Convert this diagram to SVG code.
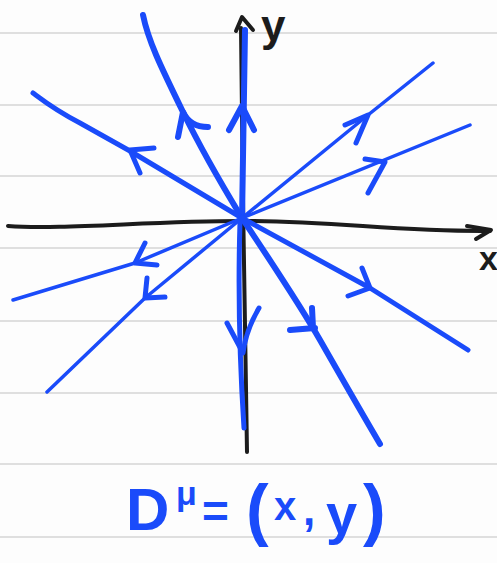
<svg xmlns="http://www.w3.org/2000/svg" width="497" height="563" viewBox="0 0 497 563">
<style>
.rule{stroke:#d5d5d5;stroke-width:1.6}
.ax{fill:none;stroke:#1c1c1c;stroke-width:4;stroke-linecap:round;stroke-linejoin:round}
.b{fill:none;stroke:#1a4bfa;stroke-linecap:round;stroke-linejoin:round}
.w6{stroke-width:6}
.w5{stroke-width:5}
.w3{stroke-width:3.5}
.lbl{font-family:"Liberation Sans","DejaVu Sans",sans-serif;font-weight:bold}
.blk{fill:#1c1c1c}
.blu{fill:#1a4bfa}
</style>
<rect width="497" height="563" fill="#fdfdfd"/>
<g id="paper">
<line class="rule" x1="0" y1="33" x2="497" y2="33"/>
<line class="rule" x1="0" y1="105" x2="497" y2="105"/>
<line class="rule" x1="0" y1="176" x2="497" y2="176"/>
<line class="rule" x1="0" y1="248" x2="497" y2="248"/>
<line class="rule" x1="0" y1="321" x2="497" y2="321"/>
<line class="rule" x1="0" y1="393" x2="497" y2="393"/>
<line class="rule" x1="0" y1="464" x2="497" y2="464"/>
<line class="rule" x1="0" y1="537" x2="497" y2="537"/>
</g>
<g id="axes">
<g id="x-axis">
<path class="ax" d="M8,226 C60,230 150,221 242,221 S400,232 490,231"/>
<path class="ax" d="M467,226 L491,230 L476,239"/>
<text class="lbl blk" x="479" y="270" font-size="34">x</text>
</g>
<g id="y-axis">
<path class="ax" d="M241,28 L243,200 L247,452"/>
<path class="ax" d="M236,31 L242,17 L253,30"/>
<text class="lbl blk" x="261" y="41" font-size="44">y</text>
</g>
</g>
<g id="connectors">
<g id="up"><path class="b w6" d="M242,220 L245,30"/><path class="b w6" d="M229,130 L242,106 L254,130"/></g>
<g id="down"><path class="b w5" d="M240,222 Q237,320 244,428"/><path class="b w5" d="M227,323 L243,353 Q246,330 259,308"/></g>
<g id="up-left-steep"><path class="b w6" d="M143,15 C148,40 160,65 183,112 S225,190 242,218"/><path class="b w6" d="M178,137 L183,112 Q190,127 208,127"/></g>
<g id="up-left"><path class="b w5" d="M33,93 C45,102 55,110 80,123 L130,151 L242,218"/><path class="b w5" d="M140,173 L130,150 L154,148"/></g>
<g id="up-right-steep"><path class="b w3" d="M242,218 L368,115 L433,63"/><path class="b w5" d="M345,125 L368,115 L356,143"/></g>
<g id="up-right"><path class="b w3" d="M242,218 L470,125"/><path class="b w5" d="M365,159 L385,162 L368,193"/></g>
<g id="down-left"><path class="b w3" d="M242,218 L135,263 L13,300"/><path class="b w5" d="M145,243 L135,263 L157,265"/></g>
<g id="down-left-steep"><path class="b w3" d="M242,218 L145,298 L47,392"/><path class="b w5" d="M147,278 L145,298 L165,297"/></g>
<g id="down-right-steep"><path class="b w6" d="M242,218 C270,260 300,305 320,340 S360,410 380,444"/><path class="b w6" d="M312,308 L313,328 M290,330 L315,328"/></g>
<g id="down-right"><path class="b w5" d="M242,218 L370,288 L468,350"/><path class="b w5" d="M362,268 L370,288 L348,296"/></g>
</g>
<g id="equation">
<text class="lbl blu"><tspan x="126" y="530" font-size="60">D</tspan><tspan x="176" y="505" font-size="34">μ</tspan><tspan x="202" y="527" font-size="46">=</tspan><tspan x="246" y="533" font-size="68">(</tspan><tspan x="274" y="520" font-size="40">x</tspan><tspan x="303" y="525" font-size="44">,</tspan><tspan x="326" y="533" font-size="56">y</tspan><tspan x="363" y="533" font-size="68">)</tspan></text>
</g>
</svg>
